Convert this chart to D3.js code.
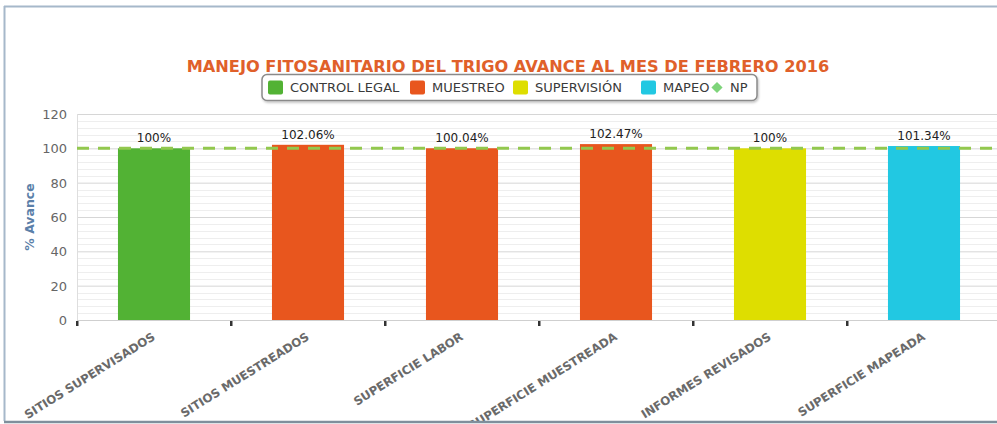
<!DOCTYPE html>
<html>
<head>
<meta charset="utf-8">
<script src="https://cdn.jsdelivr.net/npm/d3@7"></script>
<style>
  html, body { margin: 0; padding: 0; background: #fff; }
  svg { display: block; font-family: "DejaVu Sans", Verdana, sans-serif; }
</style>
</head>
<body>
<svg id="chart" width="997" height="424"></svg>
<script>
const categories = ["SITIOS SUPERVISADOS", "SITIOS MUESTREADOS", "SUPERFICIE LABOR", "SUPERFICIE MUESTREADA", "INFORMES REVISADOS", "SUPERFICIE MAPEADA"];
const values = [100, 102.06, 100.04, 102.47, 100, 101.34];
const barSeries = ["CONTROL LEGAL", "MUESTREO", "MUESTREO", "MUESTREO", "SUPERVISIÓN", "MAPEO"];
const labels = ["100%", "102.06%", "100.04%", "102.47%", "100%", "101.34%"];
const legendNames = ["CONTROL LEGAL", "MUESTREO", "SUPERVISIÓN", "MAPEO", "NP"];
const legendColors = ["#52b234", "#e8561e", "#dede00", "#22c8e2", "#7ed47a"];
const npValue = 100;
const yTicks = [0, 20, 40, 60, 80, 100, 120];
const titleText = "MANEJO FITOSANITARIO DEL TRIGO AVANCE AL MES DE FEBRERO 2016";

(function () {
const svg = d3.select("#chart");
const colorOf = d3.scaleOrdinal().domain(legendNames).range(legendColors);

// frame
svg.append("line").attr("x1", 4).attr("x2", 997).attr("y1", 6.5).attr("y2", 6.5).attr("stroke", "#a6b8ca").attr("stroke-width", 2);
svg.append("line").attr("x1", 4.5).attr("x2", 4.5).attr("y1", 6).attr("y2", 422).attr("stroke", "#a6b8ca").attr("stroke-width", 2);

const pLeft = 77, pRight = 1001, pTop = 114, pBottom = 320;
const x = d3.scaleBand().domain(categories).range([pLeft, pRight]).paddingInner(0).paddingOuter(0);
const y = d3.scaleLinear().domain([0, 120]).range([pBottom, pTop]);

// minor grid
const minor = d3.range(0, 121, 4).filter(v => v % 20 !== 0);
svg.append("g").selectAll("line").data(minor).join("line")
  .attr("x1", pLeft).attr("x2", 997)
  .attr("y1", d => Math.round(y(d)) + 0.5).attr("y2", d => Math.round(y(d)) + 0.5)
  .attr("stroke", "#eeeeee").attr("stroke-width", 1);

// major grid via axis
const yAxis = d3.axisLeft(y).tickValues(yTicks).tickSize(-(997 - pLeft)).tickPadding(10);
const gy = svg.append("g").attr("transform", `translate(${pLeft},0)`).call(yAxis);
gy.select(".domain").remove();
gy.selectAll(".tick line").attr("stroke", "#d6d6d6").attr("stroke-width", 1);
gy.selectAll(".tick text").attr("fill", "#666").attr("font-size", "13px").attr("x", -10).attr("dy", "0.35em")
  .attr("font-family", "'DejaVu Sans', sans-serif");

// left vertical line
svg.append("line").attr("x1", pLeft + 0.5).attr("x2", pLeft + 0.5).attr("y1", pTop).attr("y2", pBottom).attr("stroke", "#dedede");

// bars
const bw = x.bandwidth() * 0.468;
svg.append("g").selectAll("rect").data(categories).join("rect")
  .attr("x", d => x(d) + (x.bandwidth() - bw) / 2)
  .attr("width", bw)
  .attr("y", (d, i) => y(values[i]))
  .attr("height", (d, i) => y(0) - y(values[i]))
  .attr("fill", (d, i) => colorOf(barSeries[i]));

// NP dashed line
svg.append("line")
  .attr("x1", pLeft).attr("x2", 997)
  .attr("y1", y(npValue)).attr("y2", y(npValue))
  .attr("stroke", "#92c84e").attr("stroke-width", 3).attr("stroke-dasharray", "12,9");

// x axis baseline & ticks
const xAxis = d3.axisBottom(x).tickSize(0).tickFormat("");
const gx = svg.append("g").attr("transform", `translate(0,${pBottom})`).call(xAxis);
gx.select(".domain").attr("stroke", "#cfcfcf");
svg.append("g").selectAll("rect").data(categories).join("rect")
  .attr("x", d => x(d) - 1).attr("y", pBottom + 1).attr("width", 2.5).attr("height", 5)
  .attr("fill", "#333");

// x labels
svg.append("g").selectAll("text").data(categories).join("text")
  .attr("transform", d => `translate(${x(d) + x.bandwidth() / 2 + 2},${pBottom + 19}) rotate(-32)`)
  .attr("text-anchor", "end")
  .attr("font-size", "11.8px").attr("font-weight", "bold").attr("fill", "#6a6a6a")
  .text(d => d);

// bottom frame (drawn over labels, as in the reference)
svg.append("rect").attr("x", 0).attr("y", 421).attr("width", 997).attr("height", 3).attr("fill", "#fff");
svg.append("line").attr("x1", 4).attr("x2", 997).attr("y1", 422).attr("y2", 422).attr("stroke", "#7f8f9c").attr("stroke-width", 2.5);

// data labels
svg.append("g").selectAll("text").data(categories).join("text")
  .attr("x", d => x(d) + x.bandwidth() / 2)
  .attr("y", (d, i) => y(values[i]) - 6)
  .attr("text-anchor", "middle").attr("font-size", "12px").attr("fill", "#222")
  .text((d, i) => labels[i]);

// y axis title
svg.append("text")
  .attr("transform", `translate(34,${(pTop + pBottom) / 2}) rotate(-90)`)
  .attr("text-anchor", "middle").attr("font-size", "12.5px").attr("font-weight", "bold")
  .attr("fill", "#5b80a9").text("% Avance");

// title
svg.append("text").attr("x", 508).attr("y", 72).attr("text-anchor", "middle")
  .attr("font-size", "16.2px").attr("font-weight", "bold").attr("fill", "#e0602a")
  .text(titleText);

// legend
const defs = svg.append("defs");
const f = defs.append("filter").attr("id", "sh").attr("x", "-10%").attr("y", "-30%").attr("width", "120%").attr("height", "180%");
f.append("feDropShadow").attr("dx", 1).attr("dy", 1.5).attr("stdDeviation", 1.2).attr("flood-color", "#000").attr("flood-opacity", 0.25);
svg.append("rect").attr("x", 262).attr("y", 74.5).attr("width", 495).attr("height", 26).attr("rx", 5)
  .attr("fill", "#fff").attr("stroke", "#8a8a8a").attr("stroke-width", 1.5).attr("filter", "url(#sh)");
const itemX = [268, 410, 513, 641, 711];
const lg = svg.append("g").selectAll("g").data(legendNames).join("g")
  .attr("transform", (d, i) => `translate(${itemX[i]},87.5)`);
lg.each(function (d, i) {
  const g = d3.select(this);
  if (d === "NP") {
    g.append("path").attr("d", d3.symbol(d3.symbolDiamond2, 80)()).attr("transform", "translate(6,0)")
      .attr("fill", colorOf(d));
  } else {
    g.append("rect").attr("x", 0).attr("y", -7).attr("width", 15).attr("height", 14).attr("rx", 2).attr("fill", colorOf(d));
  }
  g.append("text").attr("x", d === "NP" ? 19 : 22).attr("y", 0).attr("dy", "0.36em")
    .attr("font-size", "13px").attr("fill", "#3a3a3a").text(d);
});
})();
</script>
</body>
</html>
